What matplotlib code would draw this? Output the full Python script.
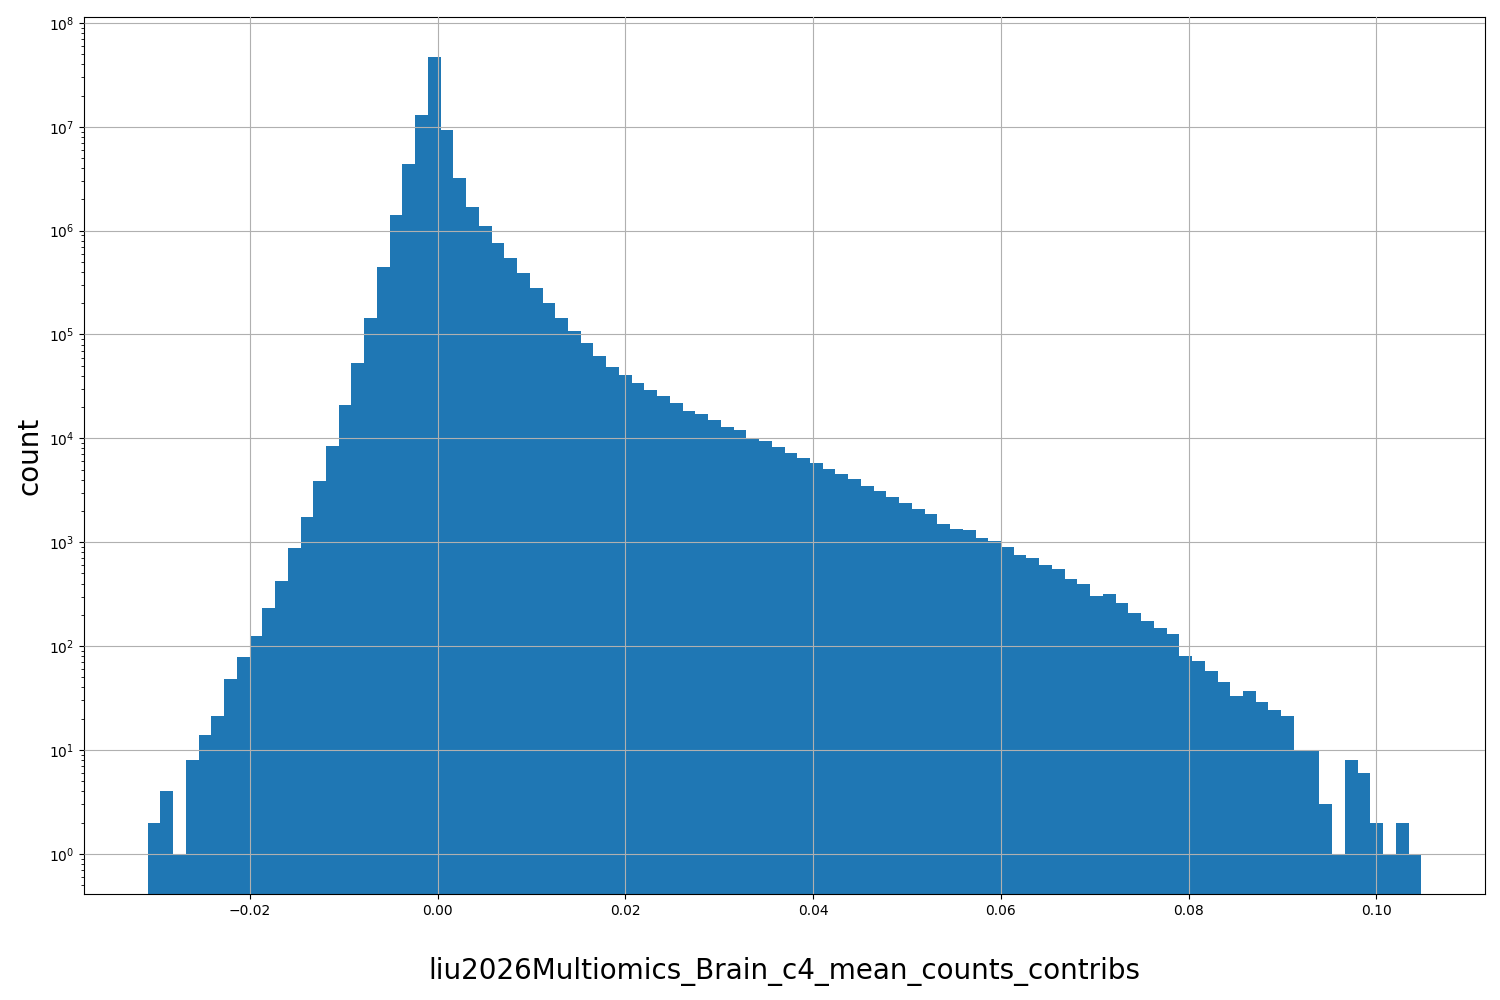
import numpy as np
import matplotlib
matplotlib.use("Agg")
import matplotlib.pyplot as plt

x_min, x_max, n_bins = -0.0309, 0.1048, 100
counts = [2, 4, 1, 8, 14, 21, 48, 78, 125, 230,
          420, 880, 1750, 3900, 8400, 21000, 53000, 145000, 450000, 1.4e6,
          4.4e6, 1.3e7, 4.7e7, 9.3e6, 3.2e6, 1.7e6, 1.1e6, 7.6e5, 5.4e5, 3.9e5,
          2.8e5, 2.0e5, 1.45e5, 1.08e5, 8.2e4, 6.2e4, 4.9e4, 4.1e4, 3.4e4, 2.95e4,
          2.55e4, 2.2e4, 1.85e4, 1.7e4, 1.5e4, 1.3e4, 1.2e4, 1.0e4, 9.5e3, 8.3e3,
          7.3e3, 6.5e3, 5.8e3, 5.1e3, 4.5e3, 4.1e3, 3.5e3, 3.1e3, 2.7e3, 2.4e3,
          2.1e3, 1.85e3, 1.5e3, 1.35e3, 1.3e3, 1.1e3, 1.02e3, 900, 750, 700,
          600, 550, 440, 400, 305, 315, 260, 210, 175, 150,
          130, 80, 72, 58, 45, 33, 37, 29, 24, 21,
          10, 10, 3, 1, 8, 6, 2, 1, 2, 1]

edges = np.linspace(x_min, x_max, n_bins + 1)
centers = (edges[:-1] + edges[1:]) / 2

fig = plt.figure(figsize=(15, 10), dpi=100)
ax = fig.add_axes([0.056, 0.106, 0.934, 0.877])
ax.hist(centers, bins=edges, weights=counts, color="#1f77b4", log=True)
ax.set_ylim(0.41, 1.14e8)
ax.grid(True)
ax.set_axisbelow(False)
ax.set_xlabel("liu2026Multiomics_Brain_c4_mean_counts_contribs", fontsize=20, labelpad=28)
ax.set_ylabel("count", fontsize=20)
fig.savefig("out.png")
